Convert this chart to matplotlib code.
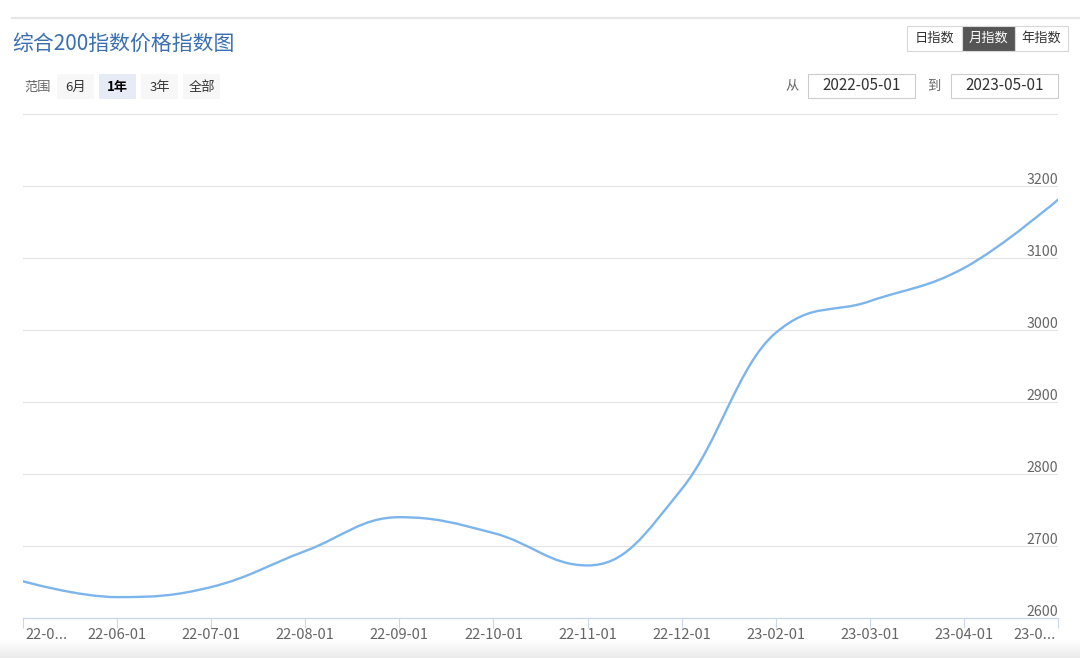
import numpy as np
import matplotlib
matplotlib.use('Agg')
import matplotlib.pyplot as plt
from matplotlib.path import Path
from matplotlib.patches import PathPatch, Rectangle
import matplotlib.transforms as mtransforms

plt.rcParams['font.family'] = ['Noto Sans CJK SC', 'DejaVu Sans']

# data (monthly, 23-01 is absent)
months = ['22-05-01', '22-06-01', '22-07-01', '22-08-01', '22-09-01', '22-10-01',
          '22-11-01', '22-12-01', '23-02-01', '23-03-01', '23-04-01', '23-05-01']
tick_labels = ['22-0...', '22-06-01', '22-07-01', '22-08-01', '22-09-01', '22-10-01',
               '22-11-01', '22-12-01', '23-02-01', '23-03-01', '23-04-01', '23-0...']
values = [2651, 2629, 2643, 2693, 2740, 2718, 2673, 2779, 2996, 3040, 3086, 3181]
y_ticks = [2600, 2700, 2800, 2900, 3000, 3100, 3200, 3300]

title = '综合200指数价格指数图'
range_buttons = ['6月', '1年', '3年', '全部']
type_buttons = ['日指数', '月指数', '年指数']
date_from = '2022-05-01'
date_to = '2023-05-01'

W, H = 1080, 658
LINE = '#7cb5ec'
TXT = '#666666'


def spline_path(xs, ys, smoothing=1.5):
    # highcharts-style spline control points
    n = len(xs)
    lc = [(xs[i], ys[i]) for i in range(n)]
    rc = [(xs[i], ys[i]) for i in range(n)]
    d = smoothing + 1
    for i in range(1, n - 1):
        px, py = xs[i], ys[i]
        lx, ly = xs[i - 1], ys[i - 1]
        nx, ny = xs[i + 1], ys[i + 1]
        lcx = (smoothing * px + lx) / d
        lcy = (smoothing * py + ly) / d
        rcx = (smoothing * px + nx) / d
        rcy = (smoothing * py + ny) / d
        corr = 0
        if rcx != lcx:
            corr = (rcy - lcy) * (rcx - px) / (rcx - lcx) + py - rcy
        lcy += corr
        rcy += corr
        if lcy > ly and lcy > py:
            lcy = max(ly, py)
            rcy = 2 * py - lcy
        elif lcy < ly and lcy < py:
            lcy = min(ly, py)
            rcy = 2 * py - lcy
        if rcy > ny and rcy > py:
            rcy = max(ny, py)
            lcy = 2 * py - rcy
        elif rcy < ny and rcy < py:
            rcy = min(ny, py)
            lcy = 2 * py - rcy
        lc[i] = (lcx, lcy)
        rc[i] = (rcx, rcy)
    verts = [(xs[0], ys[0])]
    codes = [Path.MOVETO]
    for i in range(1, n):
        verts += [rc[i - 1], lc[i], (xs[i], ys[i])]
        codes += [Path.CURVE4] * 3
    return Path(verts, codes)


fig = plt.figure(figsize=(W / 100, H / 100), dpi=100)

# overlay in pixel coordinates for the page decoration
ui = fig.add_axes([0, 0, 1, 1])
ui.axis('off')

grad = np.linspace(0, 1, 50).reshape(-1, 1)
ui.imshow(grad, extent=(0, W, H, 640), cmap=matplotlib.colors.LinearSegmentedColormap.from_list(
    'g', ['#ffffff', '#ebebeb']), aspect='auto', zorder=0)
ui.set_xlim(0, W)
ui.set_ylim(H, 0)

ui.plot([12, W], [17.5, 17.5], color='#e6e6e6', lw=1.6)
ui.text(12, 44, title, fontsize=15, color='#3a6fb1', va='center', ha='left')

# range selector
ui.text(24, 87, '范围', fontsize=9.5, color=TXT, va='center')
bx = [57, 99, 141, 183]
for lab, x0 in zip(range_buttons, bx):
    sel = lab == '1年'
    ui.add_patch(Rectangle((x0, 74), 37, 25, facecolor='#e6ebf5' if sel else '#f7f7f7',
                           edgecolor='none'))
    ui.text(x0 + 18.5, 87, lab, fontsize=9.5, color='#000000' if sel else '#333333',
            fontweight='bold' if sel else 'normal', ha='center', va='center')

# index type buttons
tx = [907, 962, 1015, 1068]
for i, lab in enumerate(type_buttons):
    sel = lab == '月指数'
    ui.add_patch(Rectangle((tx[i], 26), tx[i + 1] - tx[i], 25,
                           facecolor='#555555' if sel else 'white', edgecolor='#d8d8d8', lw=0.8))
    ui.text((tx[i] + tx[i + 1]) / 2, 38.5, lab, fontsize=9.5,
            color='white' if sel else '#333333', ha='center', va='center')

# date inputs
ui.text(792, 86, '从', fontsize=9.5, color=TXT, ha='center', va='center')
ui.add_patch(Rectangle((808, 74), 107, 24, facecolor='white', edgecolor='#cccccc', lw=0.8))
ui.text(861.5, 86, date_from, fontsize=11, color='#333333', ha='center', va='center')
ui.text(934, 86, '到', fontsize=9.5, color=TXT, ha='center', va='center')
ui.add_patch(Rectangle((951, 74), 107, 24, facecolor='white', edgecolor='#cccccc', lw=0.8))
ui.text(1004.5, 86, date_to, fontsize=11, color='#333333', ha='center', va='center')

# chart
left, right, top, bottom = 23, 1058, 114, 618
ax = fig.add_axes([left / W, 1 - bottom / H, (right - left) / W, (bottom - top) / H])
ax.patch.set_alpha(0)
x = np.arange(len(months))
ax.set_xlim(x[0], x[-1])
ax.set_ylim(y_ticks[0], y_ticks[-1])

for v in y_ticks:
    ax.axhline(v, color='#e3e3e3', lw=0.8, zorder=1)
ax.add_patch(PathPatch(spline_path(list(x), values), facecolor='none', edgecolor=LINE,
                       lw=1.7, zorder=3, capstyle='round', joinstyle='round'))

for s in ['top', 'left', 'right']:
    ax.spines[s].set_visible(False)
ax.spines['bottom'].set_color('#ccd6eb')
ax.spines['bottom'].set_linewidth(0.9)
ax.spines['bottom'].set_zorder(2)
ax.set_yticks([])
ax.set_xticks(x)
ax.set_xticklabels([])
ax.tick_params(axis='x', direction='out', length=7, width=0.8, color='#ccd6eb')

trans_y = mtransforms.blended_transform_factory(ax.transAxes, ax.transData)
for v in y_ticks[:-1]:
    ax.annotate(str(v), xy=(1.0, v), xycoords=trans_y, xytext=(0, 1.6),
                textcoords='offset points', ha='right', va='baseline',
                fontsize=10.2, color=TXT)

trans_x = mtransforms.blended_transform_factory(ax.transData, ax.transAxes)
for i, lab in enumerate(tick_labels):
    ha = 'center'
    dx = 0
    if i == 0:
        ha, dx = 'left', 1.5
    elif i == len(tick_labels) - 1:
        ha, dx = 'right', -1.5
    ax.annotate(lab, xy=(x[i], 0), xycoords=trans_x, xytext=(dx, -12.5),
                textcoords='offset points', ha=ha, va='center', fontsize=10.6, color=TXT)

fig.savefig('out.png', dpi=100)
